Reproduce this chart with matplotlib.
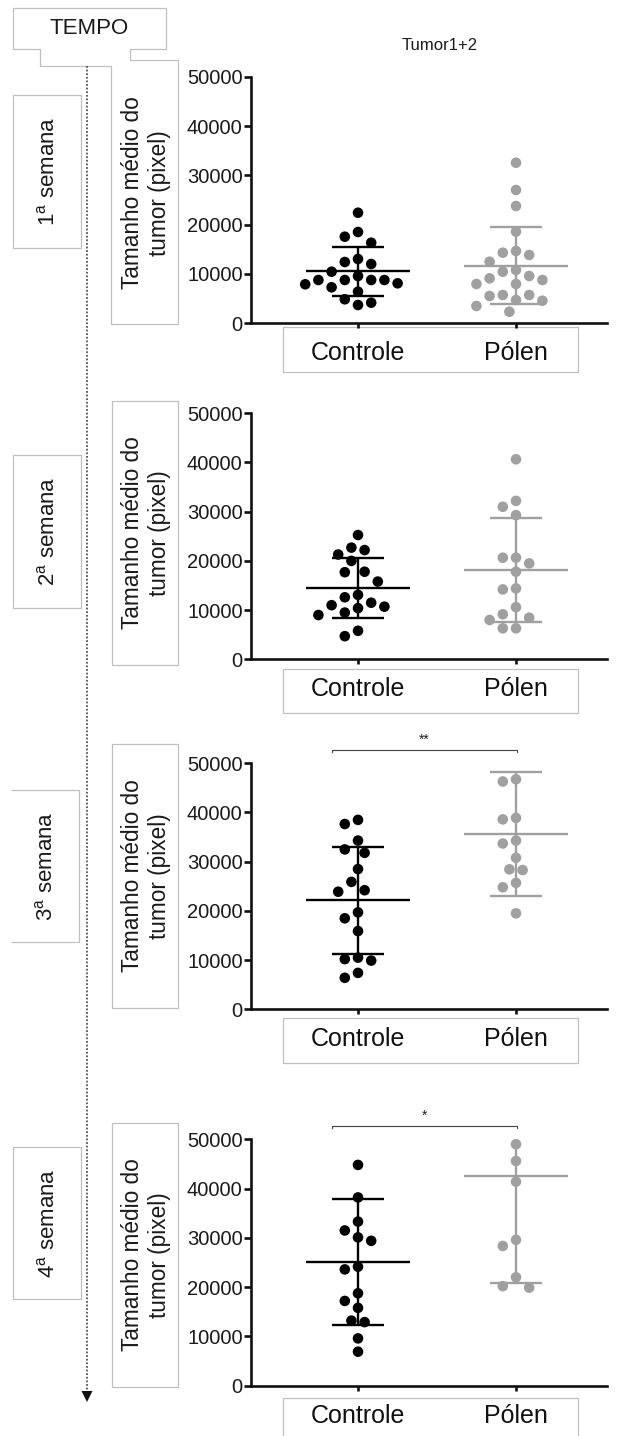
import numpy as np
import matplotlib.pyplot as plt
from matplotlib.patches import Polygon

plt.rcParams['font.family'] = ['Liberation Sans', 'DejaVu Sans']
plt.rcParams['mathtext.fontset'] = 'custom'
plt.rcParams['mathtext.rm'] = 'Liberation Sans'

W, H, DPI = 618, 1436, 100

groups = ['Controle', 'Pólen']
weeks = [r'1$^{\mathrm{a}}$ semana', r'2$^{\mathrm{a}}$ semana',
         r'3$^{\mathrm{a}}$ semana', r'4$^{\mathrm{a}}$ semana']
ylabel = 'Tamanho médio do\ntumor (pixel)'

# mean tumour size per animal (pixel)
ctrl_w1 = [22420, 17560, 18510, 16340, 12430, 12020, 13040, 10460, 9590, 8780,
           8780, 7910, 7300, 8110, 8780, 8780, 6410, 4870, 3710, 4180]
polen_w1 = [32560, 27030, 23780, 18580, 14660, 13850, 14320, 12490, 10810, 10460,
            9590, 9120, 8780, 7970, 7970, 5740, 5540, 5740, 4580, 4720, 3510, 2350]
ctrl_w2 = [25260, 22200, 22700, 21300, 20000, 17700, 17800, 15800, 12600,
           13100, 11500, 10700, 10400, 11000, 9500, 9000, 5800, 4700]
polen_w2 = [40650, 32200, 31000, 29300, 20650, 20650, 19500, 17800, 14200,
            14400, 10600, 9150, 8460, 8000, 6300, 6300]
ctrl_w3 = [38500, 37660, 34300, 32500, 31800, 28500, 25900, 24200, 23900,
           19700, 18500, 15900, 10200, 10500, 9900, 7400, 6400]
polen_w3 = [46750, 46300, 38600, 38900, 34300, 33700, 30800, 28300, 28450,
            25700, 24800, 19500]
ctrl_w4 = [44800, 38200, 33300, 31500, 30100, 29400, 24150, 23600, 18750,
           17200, 15800, 13200, 12900, 9600, 6900]
polen_w4 = [49000, 45600, 41400, 29600, 28350, 22000, 19900, 20200]

ctrl = [ctrl_w1, ctrl_w2, ctrl_w3, ctrl_w4]
polen = [polen_w1, polen_w2, polen_w3, polen_w4]

# group mean and standard deviation shown by the bars
ctrl_mean = [10540, 14400, 22150, 25050]
ctrl_sd = [5000, 6100, 10850, 12750]
polen_mean = [11650, 18150, 35700, 42600]
polen_sd = [7800, 10500, 12600, 21700]
signif = ['', '', '**', '*']

yticks = [0, 10000, 20000, 30000, 40000, 50000]

# panel placement in pixels: y of 50000 and of 0
panel_top = [76.7, 413.3, 763.3, 1139.3]
panel_bot = [323.3, 659.3, 1009.3, 1385.7]
ax_left, ax_right = 251, 607
x_ctrl, x_pol, px_unit = 358, 516, 158

BLACK = '#000000'
GREY = '#a0a0a0'
BOX = '#c0c0c0'
TXT = '#1a1a1a'


def swarm_x(ax, x0, values, diam=13.0, step=6.6):
    """Spread points sideways so the dots do not overlap."""
    tr = ax.transData.transform
    ypx = tr(np.column_stack([np.full(len(values), x0), values]))[:, 1]
    unit = tr((1, 0))[0] - tr((0, 0))[0]
    placed = []
    xs = np.zeros(len(values))
    for i in np.argsort(-values, kind='stable'):
        for k in range(80):
            m = (k + 1) // 2
            off = (-1 if k % 2 else 1) * m * step
            if all(np.hypot(off - px, ypx[i] - py) >= diam for px, py in placed):
                break
        placed.append((off, ypx[i]))
        xs[i] = x0 + off / unit
    return xs


fig = plt.figure(figsize=(W / DPI, H / DPI), dpi=DPI)

# background layer for boxes, captions and the time arrow (pixel coordinates)
bg = fig.add_axes([0, 0, 1, 1], zorder=0)
bg.set_xlim(0, W)
bg.set_ylim(H, 0)
bg.axis('off')


def box(x0, y0, x1, y1, left=True):
    xs = [x0, x1, x1, x0] + ([x0] if left else [])
    ys = [y0, y0, y1, y1] + ([y0] if left else [])
    bg.plot(xs, ys, color=BOX, lw=0.9, solid_capstyle='butt')


# TEMPO callout merged with the first y-label box
outline = [(13, 8), (166, 8), (166, 49), (130, 49), (130, 60), (178, 60),
           (178, 324), (111, 324), (111, 66), (40, 66), (40, 49), (13, 49)]
bg.add_patch(Polygon(outline, closed=True, fill=False, edgecolor=BOX, lw=0.9))
bg.text(89, 29, 'TEMPO', ha='center', va='center', fontsize=16, color=TXT)
bg.text(440, 45, 'Tumor1+2', ha='center', va='center', fontsize=12, color=TXT)

# dotted time arrow
bg.plot([87, 87], [66, 1391], ls=(0, (1, 1)), color='#555555', lw=1.3)
bg.add_patch(Polygon([(81.5, 1391), (92.5, 1391), (87, 1402)], closed=True,
                     facecolor='#111111', edgecolor='none'))

week_boxes = [(13, 95, 81, 248, True), (13, 455, 81, 608, True),
              (11, 790, 79, 942, False), (13, 1147, 81, 1299, True)]
label_boxes = [None, (112, 401, 178, 665), (112, 744, 178, 1008),
               (112, 1123, 178, 1387)]
label_centers = [193, 533, 876, 1255]
cat_boxes = [(283, 327, 578, 372), (283, 669, 578, 713),
             (283, 1018, 578, 1063), (283, 1398, 578, 1443)]

for i in range(4):
    x0, y0, x1, y1, left = week_boxes[i]
    box(x0, y0, x1, y1, left)
    bg.text((x0 + x1) / 2 + 1.5, (y0 + y1) / 2, weeks[i], rotation=90,
            ha='center', va='center', fontsize=16, color=TXT)
    if label_boxes[i] is not None:
        box(*label_boxes[i])
    bg.text(146, label_centers[i], ylabel, rotation=90, ha='center',
            va='center', multialignment='center', fontsize=16.3,
            linespacing=1.25, color=TXT)
    box(*cat_boxes[i])

xlim = ((ax_left - x_ctrl) / px_unit, (ax_right - x_ctrl) / px_unit)

for i in range(4):
    top, bot = panel_top[i], panel_bot[i]
    ax = fig.add_axes([ax_left / W, 1 - bot / H, (ax_right - ax_left) / W,
                       (bot - top) / H], zorder=1)
    ax.patch.set_alpha(0)
    ax.set_xlim(*xlim)
    ax.set_ylim(0, 50000)
    for s in ['top', 'right']:
        ax.spines[s].set_visible(False)
    for s in ['left', 'bottom']:
        ax.spines[s].set_linewidth(1.9)
        ax.spines[s].set_color('#111111')
    ax.set_yticks(yticks)
    ax.set_yticklabels([str(v) for v in yticks])
    ax.set_xticks([0, 1])
    ax.set_xticklabels(groups)
    ax.tick_params(axis='y', length=5, width=1.9, labelsize=14.5, pad=1,
                   color='#111111', labelcolor=TXT)
    ax.tick_params(axis='x', length=3.6, width=1.9, labelsize=18, pad=9.5,
                   color='#111111', labelcolor='#111111')

    for g, (vals, mean, sd, col) in enumerate([
            (ctrl[i], ctrl_mean[i], ctrl_sd[i], BLACK),
            (polen[i], polen_mean[i], polen_sd[i], GREY)]):
        ax.vlines(g, mean - sd, mean + sd, color=col, lw=1.7, zorder=2)
        ax.hlines([mean - sd, mean + sd], g - 0.165, g + 0.165, color=col,
                  lw=1.7, zorder=2)
        ax.hlines(mean, g - 0.33, g + 0.33, color=col, lw=1.7, zorder=2)
        xs = swarm_x(ax, g, np.asarray(vals, dtype=float))
        ax.scatter(xs, vals, s=58, color=col, edgecolors='none', zorder=3,
                   clip_on=False)

    if signif[i]:
        yb = 52700
        ax.plot([-0.165, -0.165, 1.006, 1.006], [yb - 500, yb, yb, yb - 500],
                color='#444444', lw=0.8, clip_on=False)
        ax.text(0.42, yb + 600, signif[i], ha='center', va='bottom',
                fontsize=10, color='#222222', clip_on=False)

fig.savefig('out.png', dpi=DPI)
